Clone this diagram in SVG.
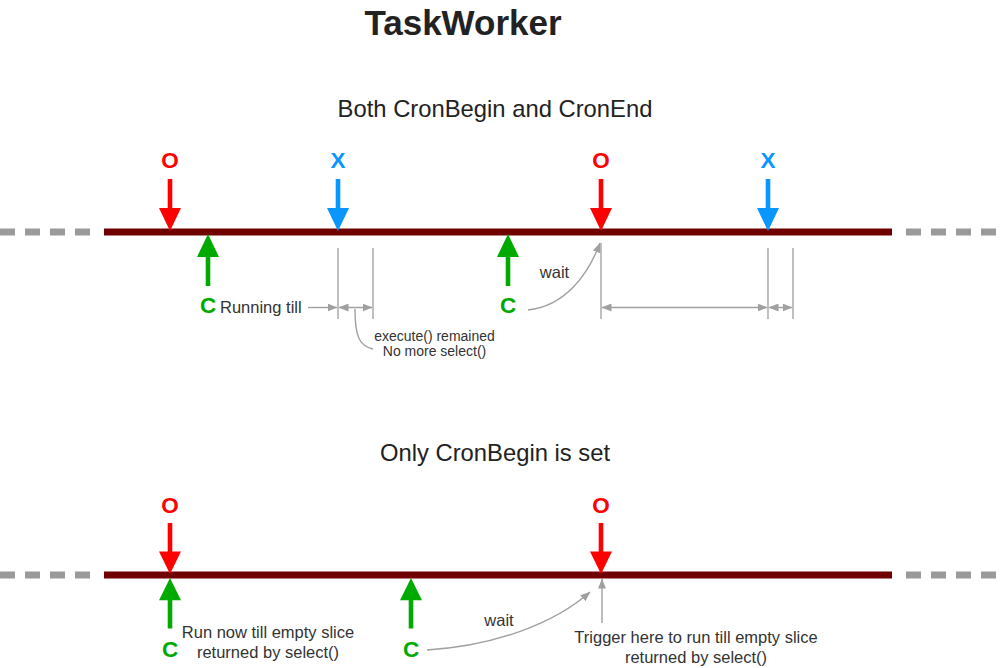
<svg xmlns="http://www.w3.org/2000/svg" xmlns:xlink="http://www.w3.org/1999/xlink" width="1000" height="668" viewBox="0 0 1000 668">
<style>
.t{font-family:"Liberation Sans",Arial,Helvetica,sans-serif;fill:#333}
.title{font-size:35px;font-weight:bold;fill:#222}
.sub{font-size:23.8px;fill:#222}
.lbl{font-size:22.5px;font-weight:bold;font-family:"Liberation Sans",Arial,sans-serif}
.note{font-size:16.5px}
.small{font-size:14px}
.red{fill:#ff0000}
.blue{fill:#0a96ff}
.green{fill:#00aa00}
.tl{stroke:#700000;stroke-width:7}
.dash{stroke:#9a9a9a;stroke-width:7;stroke-dasharray:15 10}
.g{stroke:#a0a0a0;stroke-width:1.4;fill:none}
.gv{stroke:#b0b0b0;stroke-width:1.6;fill:none}
</style>
<defs>
<path id="arr" d="M-2.3,-52 L2.3,-52 L2.3,-23 L11,-23 L0,0 L-11,-23 L-2.3,-23 Z"/>
<marker id="ah" markerUnits="userSpaceOnUse" markerWidth="10" markerHeight="8" refX="9.5" refY="4" orient="auto-start-reverse">
<path d="M0,0 L10,4 L0,8 Z" fill="#a0a0a0"/>
</marker>
</defs>
<rect width="1000" height="668" fill="#fff"/>
<text class="t title" x="463" y="35" text-anchor="middle">TaskWorker</text>
<text class="t sub" x="495" y="117" text-anchor="middle">Both CronBegin and CronEnd</text>
<text class="t sub" x="495" y="461" text-anchor="middle">Only CronBegin is set</text>

<g id="timeline-top">
<line class="dash" x1="0" y1="232" x2="94" y2="232"/>
<line class="tl" x1="104" y1="232" x2="892" y2="232"/>
<line class="dash" x1="906" y1="232" x2="1000" y2="232"/>
</g>
<g id="timeline-bottom">
<line class="dash" x1="0" y1="575" x2="94" y2="575"/>
<line class="tl" x1="104" y1="575" x2="892" y2="575"/>
<line class="dash" x1="906" y1="575" x2="1000" y2="575"/>
</g>

<g id="top-o1"><text class="lbl red" x="170" y="168" text-anchor="middle">O</text><use xlink:href="#arr" class="red" transform="translate(170,231)"/></g>
<g id="top-x1"><text class="lbl blue" x="338" y="168" text-anchor="middle">X</text><use xlink:href="#arr" class="blue" transform="translate(338,231)"/></g>
<g id="top-o2"><text class="lbl red" x="601" y="168" text-anchor="middle">O</text><use xlink:href="#arr" class="red" transform="translate(601,231)"/></g>
<g id="top-x2"><text class="lbl blue" x="768" y="168" text-anchor="middle">X</text><use xlink:href="#arr" class="blue" transform="translate(768,231)"/></g>
<g id="top-c1"><use xlink:href="#arr" class="green" transform="translate(208,234) scale(1,-1)"/><text class="lbl green" x="208" y="313" text-anchor="middle">C</text></g>
<g id="top-c2"><use xlink:href="#arr" class="green" transform="translate(508,234) scale(1,-1)"/><text class="lbl green" x="508" y="313" text-anchor="middle">C</text></g>

<g id="bot-o1"><text class="lbl red" x="170" y="513" text-anchor="middle">O</text><use xlink:href="#arr" class="red" transform="translate(170,574) scale(1,0.98)"/></g>
<g id="bot-o2"><text class="lbl red" x="601" y="513" text-anchor="middle">O</text><use xlink:href="#arr" class="red" transform="translate(601,574) scale(1,0.98)"/></g>
<g id="bot-c1"><use xlink:href="#arr" class="green" transform="translate(170,578) scale(1,-0.97)"/><text class="lbl green" x="170" y="657" text-anchor="middle">C</text></g>
<g id="bot-c2"><use xlink:href="#arr" class="green" transform="translate(411,578) scale(1,-0.97)"/><text class="lbl green" x="411" y="657" text-anchor="middle">C</text></g>

<g id="connectors">
<line class="gv" x1="338" y1="248" x2="338" y2="319"/>
<line class="gv" x1="373" y1="248" x2="373" y2="319"/>
<line class="gv" x1="601" y1="243" x2="601" y2="319"/>
<line class="gv" x1="768" y1="248" x2="768" y2="319"/>
<line class="gv" x1="793" y1="248" x2="793" y2="319"/>
<line class="g" x1="308" y1="307.5" x2="337" y2="307.5" marker-end="url(#ah)"/>
<line class="g" x1="339" y1="307.5" x2="372" y2="307.5" marker-start="url(#ah)" marker-end="url(#ah)"/>
<line class="g" x1="602" y1="307.5" x2="767" y2="307.5" marker-start="url(#ah)" marker-end="url(#ah)"/>
<line class="g" x1="769" y1="307.5" x2="792" y2="307.5" marker-start="url(#ah)" marker-end="url(#ah)"/>
<path class="g" d="M355,309 C355,338 360,346 373,349"/>
<path class="g" d="M528,310 C565,306 588,275 600,243" marker-end="url(#ah)"/>
<path class="g" d="M427,650 C495,646 555,623 590,592" marker-end="url(#ah)"/>
<line class="g" x1="602" y1="623" x2="602" y2="579" marker-end="url(#ah)"/>
</g>

<g id="labels">
<text class="t note" x="220" y="313">Running till</text>
<text class="t small" x="434.5" y="341" text-anchor="middle">execute() remained</text>
<text class="t small" x="434.5" y="356" text-anchor="middle">No more select()</text>
<text class="t note" x="554.5" y="278" text-anchor="middle">wait</text>
<text class="t note" x="268" y="638" text-anchor="middle">Run now till empty slice</text>
<text class="t note" x="268" y="658" text-anchor="middle">returned by select()</text>
<text class="t note" x="499" y="626" text-anchor="middle">wait</text>
<text class="t note" x="696" y="643" text-anchor="middle">Trigger here to run till empty slice</text>
<text class="t note" x="696" y="663" text-anchor="middle">returned by select()</text>
</g>
</svg>
